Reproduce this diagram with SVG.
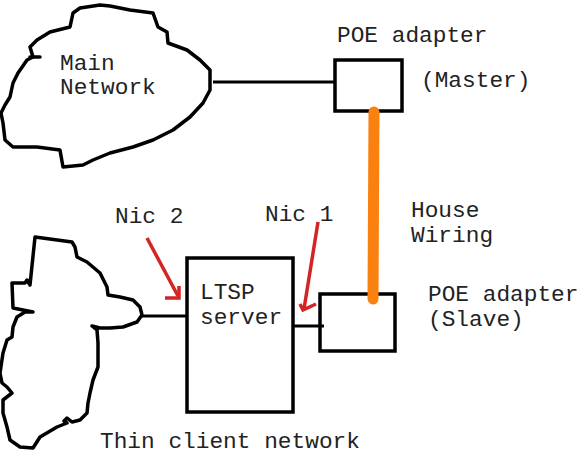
<svg xmlns="http://www.w3.org/2000/svg" width="586" height="460" viewBox="0 0 586 460">
<style>
.t{font-family:"Liberation Mono","DejaVu Sans Mono",monospace;font-size:22.8px;fill:#222}
.k{fill:none;stroke:#000;stroke-width:3.5;stroke-linejoin:round;stroke-linecap:round}
.b{fill:#fff;stroke:#000;stroke-width:3.5}
.r{fill:none;stroke:#d42424;stroke-width:3.5;stroke-linecap:butt}
</style>
<rect width="586" height="460" fill="#fff"/>
<g id="main-network">
<path class="k" d="M33,57 L30,47 L37,40 L50,32 L70,27 L73,13 L80,8 L100,5 L110,6 L130,10 L153,13 L158,27 L167,32 L168,43 L187,50 L200,60 L210,70 L210,90 L203,103 L190,117 L173,130 L153,140 L133,147 L110,153 L93,160 L83,165 L63,167 L60,150 L37,147 L13,147 L5,140 L3,123 L1,113 L5,105 L10,97 L13,83 L18,73 L27,60 Z"/>
<line class="k" x1="30" y1="57" x2="40" y2="57"/>
<text class="t" x="60" y="70">Main</text>
<text class="t" x="60" y="94">Network</text>
</g>
<g id="poe-master">
<rect class="b" x="335" y="60" width="67" height="51"/>
<text class="t" x="337" y="42">POE adapter</text>
<text class="t" x="421" y="87">(Master)</text>
</g>
<g id="thin-client-network">
<path class="k" d="M35,237 L72,242 L75,247 L77,257 L87,262 L100,273 L107,287 L108,295 L120,297 L133,300 L140,307 L142,315 L137,322 L123,327 L110,328 L100,328 L92,326 L97,330 L98,343 L98,367 L93,380 L90,393 L88,403 L87,413 L80,420 L72,422 L67,418 L64,421 L67,423 L57,427 L40,437 L33,448 L20,447 L10,440 L7,427 L3,413 L3,400 L12,393 L7,387 L2,383 L0,373 L3,353 L7,340 L12,337 L13,327 L17,317 L25,312 L33,312 L13,308 L12,283 L25,283 L27,280 L30,285 Z"/>
<text class="t" x="100" y="448">Thin client network</text>
</g>
<g id="ltsp-server">
<rect class="b" x="187" y="258" width="106" height="154"/>
<text class="t" x="200" y="299">LTSP</text>
<text class="t" x="200" y="324">server</text>
</g>
<g id="poe-slave">
<rect class="b" x="320" y="294" width="75" height="57"/>
<text class="t" x="428" y="301">POE adapter</text>
<text class="t" x="428" y="326">(Slave)</text>
</g>
<g id="connectors">
<line x1="213" y1="82" x2="335" y2="82" stroke="#000" stroke-width="3"/>
<line x1="142" y1="316" x2="187" y2="316" stroke="#000" stroke-width="3"/>
<line x1="293" y1="326" x2="324" y2="326" stroke="#000" stroke-width="3"/>
<line x1="374" y1="112" x2="373" y2="299" stroke="#fa8010" stroke-width="11" stroke-linecap="round"/>
<text class="t" x="411" y="217">House</text>
<text class="t" x="411" y="242">Wiring</text>
</g>
<g id="nic2">
<text class="t" x="115" y="223">Nic 2</text>
<line class="r" x1="147" y1="238" x2="178" y2="296"/>
<polyline class="r" points="165,298 179,298 179,286"/>
</g>
<g id="nic1">
<text class="t" x="265" y="221">Nic 1</text>
<line class="r" x1="318" y1="222" x2="304" y2="309"/>
<polyline class="r" points="300,304 303,310 316,304"/>
</g>
</svg>
